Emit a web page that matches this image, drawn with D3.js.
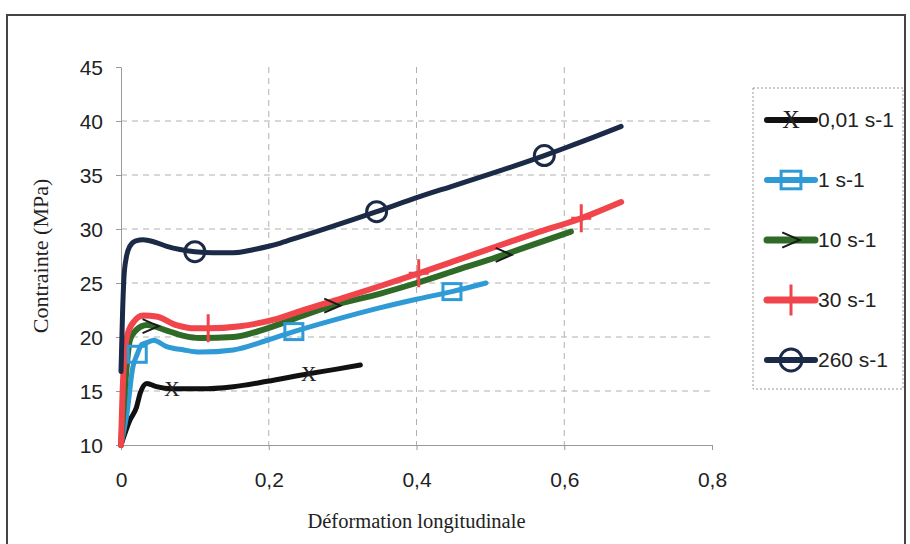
<!DOCTYPE html>
<html><head><meta charset="utf-8">
<script src="https://cdn.jsdelivr.net/npm/d3@7"></script>
<style>html,body{margin:0;padding:0;background:#fff;}svg{display:block;}</style>
</head><body>
<svg id="c" width="910" height="544"></svg>
<script>
// ---- data ----
const seriesNames = ["0,01 s-1", "1 s-1", "10 s-1", "30 s-1", "260 s-1"];
const xTicks = [0, 0.2, 0.4, 0.6, 0.8];
const yTicks = [10, 15, 20, 25, 30, 35, 40, 45];

const s001 = [[0,10],[0.012,12.3],[0.021,13.5],[0.026,14.8],[0.035,15.7],[0.048,15.4],[0.069,15.2],[0.107,15.2],[0.152,15.4],[0.198,15.9],[0.254,16.6],[0.29,17.0],[0.324,17.4]];
const s1 = [[0,10],[0.008,12.9],[0.016,17.2],[0.022,18.4],[0.028,19.3],[0.036,19.5],[0.044,19.7],[0.062,19.1],[0.085,18.8],[0.107,18.6],[0.152,18.8],[0.198,19.7],[0.234,20.5],[0.3,21.8],[0.35,22.7],[0.4,23.5],[0.448,24.2],[0.494,25.0]];
const s10 = [[0,10],[0.005,15],[0.012,19.7],[0.02,20.6],[0.035,21.1],[0.062,20.6],[0.085,20.1],[0.107,19.9],[0.152,20.0],[0.198,20.8],[0.243,21.9],[0.286,22.9],[0.35,24.0],[0.4,25.0],[0.45,26.1],[0.518,27.6],[0.56,28.6],[0.609,29.75]];
const s30 = [[0,10],[0.003,16.3],[0.008,20],[0.016,21.3],[0.03,22.0],[0.048,21.9],[0.075,21.1],[0.1,20.8],[0.118,20.8],[0.161,21.0],[0.207,21.6],[0.243,22.4],[0.3,23.6],[0.35,24.7],[0.403,25.9],[0.45,27.0],[0.509,28.4],[0.56,29.6],[0.623,31.0],[0.677,32.5]];
const s260 = [[0,16.8],[0.002,22],[0.004,25.5],[0.007,27.3],[0.012,28.4],[0.02,28.9],[0.03,29.0],[0.045,28.8],[0.062,28.4],[0.08,28.1],[0.1,27.9],[0.125,27.8],[0.152,27.8],[0.18,28.1],[0.2,28.4],[0.216,28.7],[0.243,29.3],[0.28,30.1],[0.346,31.6],[0.4,32.9],[0.45,34.0],[0.5,35.1],[0.573,36.8],[0.601,37.5],[0.64,38.5],[0.677,39.5]];

const m001 = [[0.069,15.2],[0.254,16.6]];
const m1 = [[0.022,18.4],[0.234,20.5],[0.448,24.2]];
const m10 = [[0.04,21.0],[0.286,22.9],[0.518,27.6]];
const m30 = [[0.118,20.8],[0.403,25.9],[0.623,31.0]];
const m260 = [[0.1,27.9],[0.346,31.6],[0.573,36.8]];

// ---- layout ----
const svg = d3.select("#c");
const L = 121, R = 712, T = 67, B = 445;
const x = d3.scaleLinear().domain([0, 0.8]).range([L, R]);
const y = d3.scaleLinear().domain([10, 45]).range([B, T]);
const xfmt = v => v === 0 ? "0" : String(v).replace(".", ",");
const SANS = "Liberation Sans, Arial, sans-serif";
const SERIF = "Liberation Serif, Times New Roman, serif";

svg.append("rect").attr("x", 7).attr("y", 15).attr("width", 898).attr("height", 540)
  .attr("fill", "#fff").attr("stroke", "#444").attr("stroke-width", 2);

// gridlines
const g = svg.append("g");
g.selectAll(".hg").data(yTicks.filter(v => v > 10 && v < 45)).join("line")
  .attr("x1", L).attr("x2", R).attr("y1", d => y(d)).attr("y2", d => y(d))
  .attr("stroke", "#b0b0b0").attr("stroke-width", 1).attr("stroke-dasharray", "6,5");
g.selectAll(".vg").data(xTicks.filter(v => v > 0 && v < 0.8)).join("line")
  .attr("y1", T).attr("y2", B).attr("x1", d => x(d)).attr("x2", d => x(d))
  .attr("stroke", "#b0b0b0").attr("stroke-width", 1).attr("stroke-dasharray", "6,5");

// axes
const ax = svg.append("g").attr("transform", `translate(0,${B})`)
  .call(d3.axisBottom(x).tickValues(xTicks).tickSize(5).tickSizeOuter(0).tickFormat(xfmt));
const ay = svg.append("g").attr("transform", `translate(${L},0)`)
  .call(d3.axisLeft(y).tickValues(yTicks).tickSize(5).tickSizeOuter(0));
[ax, ay].forEach(a => {
  a.select(".domain").attr("stroke", "#999");
  a.selectAll(".tick line").attr("stroke", "#999");
  a.selectAll(".tick text").attr("font-family", SANS).attr("font-size", 21).attr("fill", "#222");
});
ax.selectAll(".tick text").attr("y", 42).attr("dy", 0);
ay.selectAll(".tick text").attr("x", -18).attr("dy", "0.36em");

svg.append("text").attr("x", (L + R) / 2).attr("y", 528).attr("text-anchor", "middle")
  .attr("font-family", SERIF).attr("font-size", 20.5).attr("fill", "#222")
  .text("Déformation longitudinale");
svg.append("text").attr("transform", `translate(48,${(T + B) / 2}) rotate(-90)`).attr("text-anchor", "middle")
  .attr("font-family", SERIF).attr("font-size", 22).attr("fill", "#222")
  .text("Contrainte (MPa)");

// series
const colors = ["#111111", "#2e9ad6", "#2f6b27", "#f0454a", "#1b2a46"];
const widths = [5, 5, 6, 6, 5];
const data = [s001, s1, s10, s30, s260];
const marks = [m001, m1, m10, m30, m260];
const line = d3.line().x(d => x(d[0])).y(d => y(d[1])).curve(d3.curveMonotoneX);
const plot = svg.append("g");
data.forEach((s, i) => {
  plot.append("path").datum(s).attr("d", line).attr("fill", "none")
    .attr("stroke", colors[i]).attr("stroke-width", widths[i])
    .attr("stroke-linejoin", "round").attr("stroke-linecap", "round");
});

function marker(gsel, type, cx, cy, col, k) {
  k = k || 1;
  if (type === 0) {
    gsel.append("text").attr("x", cx).attr("y", cy + 7 * k).attr("text-anchor", "middle")
      .attr("font-family", SERIF).attr("font-size", 22 * k).attr("fill", "#222").text("X");
  } else if (type === 1) {
    gsel.append("rect").attr("x", cx - 9 * k).attr("y", cy - 8 * k).attr("width", 18 * k).attr("height", 16 * k)
      .attr("fill", "none").attr("stroke", col).attr("stroke-width", 3);
  } else if (type === 2) {
    gsel.append("path").attr("d", `M${cx - 8 * k},${cy - 7 * k}L${cx + 8 * k},${cy}L${cx - 8 * k},${cy + 7 * k}`)
      .attr("fill", "none").attr("stroke", "#1a1a1a").attr("stroke-width", 2);
  } else if (type === 3) {
    gsel.append("path").attr("d", `M${cx},${cy - 14 * k}V${cy + 14 * k}M${cx - 10 * k},${cy}H${cx + 10 * k}`)
      .attr("fill", "none").attr("stroke", col).attr("stroke-width", 3);
  } else {
    gsel.append("circle").attr("cx", cx).attr("cy", cy).attr("r", 10 * k)
      .attr("fill", "none").attr("stroke", col).attr("stroke-width", 3);
  }
}
marks.forEach((ms, i) => {
  ms.forEach(p => marker(plot, i, x(p[0]), y(p[1]), colors[i]));
});

// legend
const lg = svg.append("g");
lg.append("rect").attr("x", 753).attr("y", 88).attr("width", 150).attr("height", 301)
  .attr("fill", "#fff").attr("stroke", "#999").attr("stroke-width", 1).attr("stroke-dasharray", "2,2");
seriesNames.forEach((n, i) => {
  const ly = 120 + i * 60;
  lg.append("line").attr("x1", 767).attr("x2", 815).attr("y1", ly).attr("y2", ly)
    .attr("stroke", colors[i]).attr("stroke-width", widths[i] + 1).attr("stroke-linecap", "round");
  marker(lg, i, 791, ly, colors[i], 1.1);
  lg.append("text").attr("x", 818).attr("y", ly + 7).attr("font-family", SANS)
    .attr("font-size", 21).attr("fill", "#222").text(n);
});
</script>
</body></html>
